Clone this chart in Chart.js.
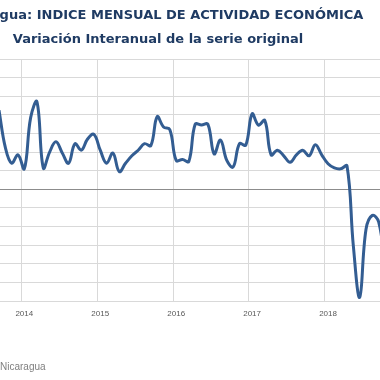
<!DOCTYPE html>
<html>
<head>
<meta charset="utf-8">
<script src="https://cdn.jsdelivr.net/npm/chart.js@4.4.1/dist/chart.umd.min.js"></script>
<style>
  body { margin: 0; background: #fff; }
  #frame { position: relative; width: 380px; height: 380px; overflow: hidden; background: #fff; }
  #plot { position: absolute; left: -69px; top: 0; }
  .source { position: absolute; left: 0; top: 361px; font: 10px "Liberation Sans", sans-serif; color: #808080; white-space: nowrap; }
  .source .pre { position: absolute; right: 100%; }
</style>
</head>
<body>
<div id="frame">
  <canvas id="plot" width="454" height="380"></canvas>
  <div class="source"><span class="pre">Fuente: Banco Central de&nbsp;</span>Nicaragua</div>
</div>
<script>
const months = [
  "2013-09", "2013-10", "2013-11", "2013-12",
  "2014-01", "2014-02", "2014-03", "2014-04", "2014-05", "2014-06", "2014-07", "2014-08", "2014-09", "2014-10", "2014-11", "2014-12",
  "2015-01", "2015-02", "2015-03", "2015-04", "2015-05", "2015-06", "2015-07", "2015-08", "2015-09", "2015-10", "2015-11", "2015-12",
  "2016-01", "2016-02", "2016-03", "2016-04", "2016-05", "2016-06", "2016-07", "2016-08", "2016-09", "2016-10", "2016-11", "2016-12",
  "2017-01", "2017-02", "2017-03", "2017-04", "2017-05", "2017-06", "2017-07", "2017-08", "2017-09", "2017-10", "2017-11", "2017-12",
  "2018-01", "2018-02", "2018-03", "2018-04", "2018-05", "2018-06", "2018-07", "2018-08", "2018-09", "2018-10",
];

// variacion interanual (%)
const imae = [
  8.5, 4.5, 2.8, 3.7,
  2.2, 7.7, 9.4, 2.3, 4.0, 5.1, 3.9, 2.8, 4.9, 4.2, 5.4, 5.9,
  4.2, 2.8, 3.9, 1.9, 2.8, 3.6, 4.2, 4.9, 4.7, 7.8, 6.7, 6.4,
  3.1, 3.2, 3.0, 7.0, 6.9, 7.0, 3.8, 5.3, 3.1, 2.4, 4.9, 4.75,
  8.1, 6.9, 7.4, 3.7, 4.2, 3.6, 2.9, 3.7, 4.2, 3.6, 4.8, 3.7,
  2.75, 2.3, 2.2, 2.5, -6.1, -11.6, -4.3, -2.8, -3.5, -8.1,
];

const yearTicks = ["2014", "2015", "2016", "2017", "2018"];

const TITLE = "Nicaragua: INDICE MENSUAL DE ACTIVIDAD ECONÓMICA";
const SUBTITLE = "Variación Interanual de la serie original";

function isYearStart(i) {
  const m = months[i];
  return m !== undefined && yearTicks.includes(m.slice(0, 4)) && m.endsWith("-01");
}

const ctx = document.getElementById("plot").getContext("2d");

new Chart(ctx, {
  type: "line",
  data: {
    labels: months,
    datasets: [
      {
        label: "IMAE",
        data: imae,
        borderColor: "#335d92",
        borderWidth: 3,
        pointRadius: 0,
        pointHoverRadius: 0,
        tension: 0.4,
        fill: false,
      },
    ],
  },
  options: {
    responsive: false,
    animation: false,
    layout: { padding: 0, autoPadding: false },
    plugins: {
      legend: { display: false },
      tooltip: { enabled: false },
      title: {
        display: true,
        text: TITLE,
        color: "#1f3b63",
        font: { family: "DejaVu Sans", size: 13, weight: "bold", lineHeight: 1.2 },
        padding: { top: 8, bottom: 4 },
      },
      subtitle: {
        display: true,
        text: SUBTITLE,
        color: "#1f3b63",
        font: { family: "DejaVu Sans", size: 13, weight: "bold", lineHeight: 1.2 },
        padding: { top: 4, bottom: 11.8 },
      },
    },
    scales: {
      x: {
        offset: false,
        border: { display: false },
        grid: {
          offset: true,
          drawTicks: true,
          tickLength: 8,
          tickColor: "rgba(0,0,0,0)",
          color: (c) => (isYearStart(c.index) ? "#d9d9d9" : "rgba(0,0,0,0)"),
        },
        ticks: {
          autoSkip: false,
          maxRotation: 0,
          padding: 0,
          color: "#595959",
          font: { family: "Liberation Sans", size: 8 },
          callback: function (v, i) {
            return isYearStart(i) ? months[i].slice(0, 4) : "";
          },
        },
        afterFit: (s) => { s.height = 79; },
      },
      y: {
        min: -12,
        max: 14,
        border: { display: false },
        grid: {
          color: (c) => (c.tick && c.tick.value === 0 ? "#8c8c8c" : "#d9d9d9"),
        },
        ticks: {
          stepSize: 2,
          padding: 8,
          color: "#595959",
          font: { family: "Liberation Sans", size: 8 },
          callback: (v) => v.toFixed(1),
        },
        afterFit: (s) => { s.width = 68; },
      },
    },
  },
});
</script>
</body>
</html>
